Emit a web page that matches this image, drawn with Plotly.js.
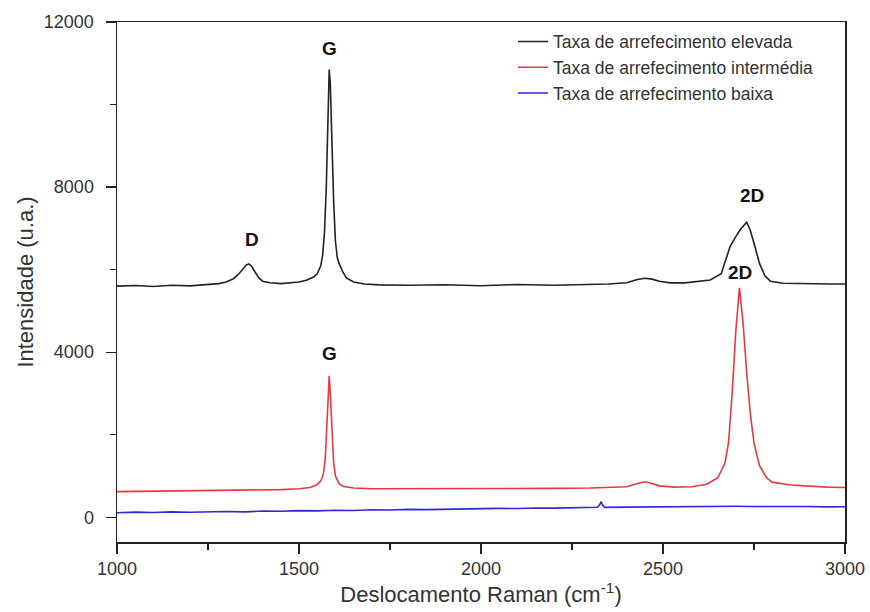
<!DOCTYPE html>
<html>
<head>
<meta charset="utf-8">
<script src="https://cdn.plot.ly/plotly-3.0.1.min.js"></script>
<style>html,body{margin:0;padding:0;background:#fff;}#chart{width:870px;height:612px;}</style>
</head>
<body>
<div id="chart"></div>
<script>
// Series names
const seriesNames = ["Taxa de arrefecimento elevada", "Taxa de arrefecimento intermédia", "Taxa de arrefecimento baixa"];

// Black: high cooling rate
const xHigh = [1000,1050,1100,1150,1200,1250,1280,1300,1320,1335,1345,1355,1362,1370,1380,1390,1400,1420,1450,1480,1500,1520,1540,1550,1560,1565,1570,1575,1580,1583,1586,1590,1595,1600,1605,1610,1620,1630,1650,1680,1720,1800,1900,2000,2100,2200,2300,2350,2400,2430,2450,2470,2490,2520,2560,2600,2630,2660,2684,2700,2715,2730,2740,2753,2765,2780,2795,2830,2870,2920,2960,3000];
const yHigh = [5600,5615,5590,5620,5605,5630,5660,5700,5780,5900,6010,6110,6140,6080,5930,5800,5720,5680,5660,5675,5700,5740,5820,5900,6100,6350,6900,8000,9800,10850,10500,9200,7700,6700,6300,6150,5950,5800,5700,5650,5630,5620,5635,5610,5640,5620,5640,5650,5680,5760,5790,5770,5720,5680,5680,5710,5750,5900,6550,6800,7000,7150,6950,6550,6150,5850,5720,5670,5660,5665,5650,5650];

// Red: intermediate cooling rate
const xMid = [1000,1100,1200,1300,1350,1400,1450,1500,1530,1550,1560,1567,1572,1576,1580,1583,1586,1590,1595,1600,1610,1620,1650,1700,1800,1900,2000,2100,2200,2300,2350,2400,2430,2450,2465,2490,2530,2580,2620,2650,2670,2680,2690,2700,2710,2720,2730,2740,2750,2765,2785,2800,2850,2900,2950,3000];
const yMid = [620,630,640,650,670,660,670,690,720,790,880,1050,1400,2100,3100,3430,3000,2100,1350,1000,820,750,710,690,690,700,700,700,700,710,720,740,820,860,830,760,730,740,800,950,1300,1800,3000,4500,5560,4700,3500,2500,1800,1250,950,850,780,750,730,720];

// Blue: low cooling rate
const xLow = [1000,1050,1100,1150,1200,1250,1300,1350,1400,1450,1500,1550,1600,1650,1700,1750,1800,1850,1900,1950,2000,2050,2100,2150,2200,2250,2300,2320,2326,2330,2334,2340,2400,2450,2500,2550,2600,2650,2700,2750,2800,2850,2900,2950,3000];
const yLow = [110,125,115,130,120,135,140,130,150,145,160,155,170,165,180,175,190,185,195,200,205,215,210,225,220,230,235,240,300,380,290,240,245,250,255,250,260,255,265,260,265,255,260,250,255];

// Axis ticks
const xTicks = [1000,1500,2000,2500,3000];
const xMinorTicks = [1250,1750,2250,2750];
const yTicks = [0,4000,8000,12000];
const yTickLabels = ["0","4000","8000","12000"];
const yMinorTicks = [2000,6000,10000];

// Peak labels
const labelText = ["G","D","2D","G","2D"];
const labelX = [1583,1372,2745,1583,2712];
const labelY = [11350,6720,7800,3960,5930];

const FONT = "Liberation Sans, Arial, sans-serif";

const traces = [
  {x:xHigh, y:yHigh, name:seriesNames[0], mode:"lines", line:{color:"#222222", width:1.6}},
  {x:xMid, y:yMid, name:seriesNames[1], mode:"lines", line:{color:"#e8383f", width:1.6}},
  {x:xLow, y:yLow, name:seriesNames[2], mode:"lines", line:{color:"#2b2bd6", width:1.6}}
];

const annotations = labelText.map((t,i)=>({
  x:labelX[i], y:labelY[i], text:"<b>"+t+"</b>", showarrow:false,
  font:{family:FONT, size:19, color:"#111"}
}));

const axisCommon = {
  showline:true, linecolor:"#222", linewidth:1.5, mirror:true,
  ticks:"outside", ticklen:10, tickwidth:1.3, tickcolor:"#222",
  showgrid:false, zeroline:false,
  tickfont:{family:FONT, size:18, color:"#333"}
};

const layout = {
  width:870, height:612,
  margin:{l:117, r:25, t:22, b:70},
  paper_bgcolor:"#fff", plot_bgcolor:"#fff",
  showlegend:true,
  legend:{x:0.544, y:0.997, xanchor:"left", yanchor:"top", bgcolor:"rgba(0,0,0,0)",
    font:{family:FONT, size:17.5, color:"#333"}, tracegroupgap:0},
  xaxis:Object.assign({}, axisCommon, {
    range:[1000,3000], tickvals:xTicks,
    minor:{tickvals:xMinorTicks, ticks:"outside", ticklen:6, tickcolor:"#222", showgrid:false},
    title:{text:"Deslocamento Raman (cm<sup>-1</sup>)", standoff:4,
      font:{family:FONT, size:22, color:"#333"}}
  }),
  yaxis:Object.assign({}, axisCommon, {
    range:[-600,12000], tickvals:yTicks, ticktext:yTickLabels, ticklabelstandoff:8,
    minor:{tickvals:yMinorTicks, ticks:"outside", ticklen:6, tickcolor:"#222", showgrid:false},
    title:{text:"Intensidade (u.a.)", standoff:4,
      font:{family:FONT, size:22, color:"#333"}}
  }),
  annotations:annotations
};

Plotly.newPlot("chart", traces, layout, {displayModeBar:false, staticPlot:true});
</script>
</body>
</html>
